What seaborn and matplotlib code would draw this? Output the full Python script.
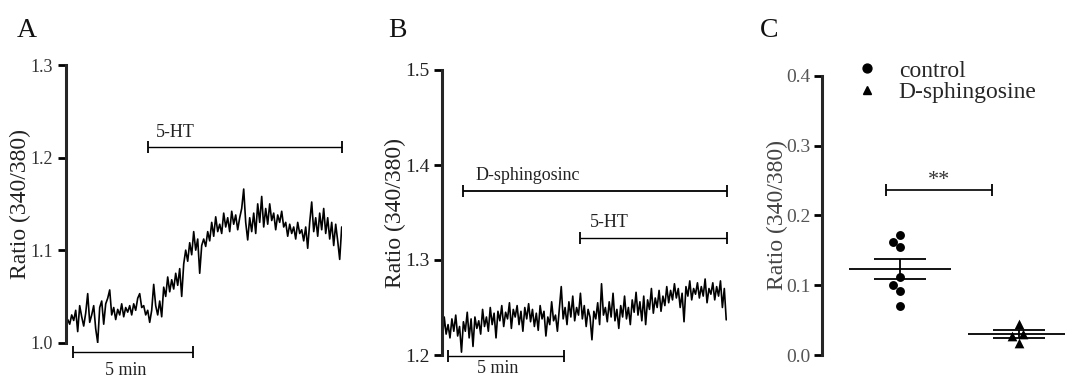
import numpy as np
import pandas as pd
import matplotlib
matplotlib.use("Agg")
import matplotlib.pyplot as plt
from matplotlib.lines import Line2D
import seaborn as sns

# ---------------- data ----------------
# Panel A: ratio trace, one sample every 5 s
a_dt = 5
a_ratio = [
    1.022, 1.025, 1.020, 1.030, 1.024, 1.035, 1.012, 1.040, 1.028, 1.018,
    1.032, 1.053, 1.022, 1.030, 1.040, 1.015, 1.000, 1.038, 1.045, 1.020,
    1.042, 1.048, 1.057, 1.030, 1.038, 1.025, 1.036, 1.030, 1.042, 1.028,
    1.038, 1.033, 1.040, 1.030, 1.042, 1.035, 1.048, 1.053, 1.038, 1.040,
    1.030, 1.035, 1.022, 1.035, 1.063, 1.040, 1.030, 1.045, 1.028, 1.060,
    1.050, 1.071, 1.055, 1.068, 1.058, 1.075, 1.062, 1.080, 1.050, 1.085,
    1.100, 1.088, 1.108, 1.095, 1.120, 1.100, 1.112, 1.075, 1.105, 1.112,
    1.104, 1.120, 1.110, 1.130, 1.115, 1.136, 1.120, 1.128, 1.118, 1.140,
    1.125, 1.135, 1.120, 1.142, 1.128, 1.138, 1.122, 1.135, 1.145, 1.166,
    1.130, 1.111, 1.135, 1.120, 1.140, 1.118, 1.150, 1.130, 1.158, 1.125,
    1.145, 1.128, 1.150, 1.132, 1.140, 1.122, 1.138, 1.130, 1.142, 1.125,
    1.130, 1.115, 1.128, 1.118, 1.125, 1.112, 1.130, 1.118, 1.122, 1.110,
    1.125, 1.102, 1.130, 1.152, 1.120, 1.135, 1.115, 1.140, 1.122, 1.145,
    1.118, 1.135, 1.112, 1.130, 1.105, 1.128, 1.110, 1.090, 1.125,
]
a_ht_start, a_ht_end = 205, 690          # 5-HT application (s)
a_scale_start, a_scale_end = 19, 319     # 5 min scale bar (s)

# Panel B: ratio trace, one sample every 5 s
b_dt = 5
b_ratio = [
    1.215, 1.240, 1.222, 1.232, 1.218, 1.238, 1.225, 1.242, 1.220, 1.230,
    1.203, 1.235, 1.225, 1.245, 1.218, 1.238, 1.209, 1.240, 1.228, 1.236,
    1.222, 1.248, 1.230, 1.240, 1.225, 1.250, 1.232, 1.244, 1.218, 1.246,
    1.236, 1.252, 1.230, 1.245, 1.238, 1.255, 1.228, 1.248, 1.240, 1.252,
    1.232, 1.246, 1.225, 1.250, 1.238, 1.254, 1.235, 1.248, 1.230, 1.244,
    1.226, 1.252, 1.238, 1.246, 1.220, 1.240, 1.232, 1.256, 1.236, 1.242,
    1.225, 1.248, 1.272, 1.238, 1.250, 1.232, 1.256, 1.240, 1.262, 1.236,
    1.250, 1.242, 1.265, 1.238, 1.252, 1.230, 1.248, 1.240, 1.216, 1.246,
    1.238, 1.255, 1.232, 1.275, 1.242, 1.250, 1.235, 1.256, 1.240, 1.265,
    1.236, 1.248, 1.228, 1.252, 1.240, 1.262, 1.238, 1.250, 1.232, 1.258,
    1.245, 1.266, 1.242, 1.256, 1.236, 1.262, 1.232, 1.258, 1.248, 1.270,
    1.244, 1.260, 1.250, 1.268, 1.246, 1.262, 1.252, 1.272, 1.255, 1.268,
    1.258, 1.275, 1.260, 1.270, 1.250, 1.265, 1.235, 1.272, 1.262, 1.278,
    1.258, 1.270, 1.264, 1.276, 1.260, 1.272, 1.262, 1.280, 1.255, 1.270,
    1.264, 1.276, 1.258, 1.272, 1.262, 1.278, 1.250, 1.270, 1.237,
]
b_sph_start, b_sph_end = 55, 742
b_ht_start, b_ht_end = 360, 742
b_scale_start, b_scale_end = 16, 316

# Panel C: peak ratio increase per cell
groups = ["control", "D-sphingosine"]
control_vals = [0.162, 0.154, 0.172, 0.112, 0.100, 0.092, 0.070]
sph_vals = [0.045, 0.030, 0.027, 0.017]

# ---------------- style ----------------
sns.set_style("ticks")
plt.rcParams["font.family"] = ["Liberation Serif", "DejaVu Serif"]
plt.rcParams["axes.linewidth"] = 2.2

W, H = 1065, 377
fig = plt.figure(figsize=(W / 100, H / 100), dpi=100)


def fax(left, top, right, bottom):
    return fig.add_axes([left / W, 1 - bottom / H, (right - left) / W, (bottom - top) / H])


def style_axis(ax, ticks, labels, tick_color, label_color, label_x, tsize, pad):
    sns.despine(ax=ax, bottom=True)
    ax.set_xticks([])
    ax.set_yticks(ticks)
    ax.set_yticklabels(labels)
    ax.tick_params(axis="y", direction="out", length=6, width=2.0, pad=pad,
                   labelsize=tsize, labelcolor=tick_color, color="black")
    ax.set_ylabel("Ratio (340/380)", fontsize=17, color=label_color)
    ax.yaxis.set_label_coords(label_x, 0.5)
    ax.patch.set_alpha(0)


def bar(ax, x0, x1, y, lw=1.0):
    ax.plot([x0, x1], [y, y], color="black", lw=lw, marker="|", markersize=8,
            markeredgewidth=1.3, clip_on=False, solid_capstyle="butt")


# ---------------- panel A ----------------
axA = fax(65.7, 65, 341.7, 342.7)
a_df = pd.DataFrame({"t": np.arange(len(a_ratio)) * a_dt, "ratio": a_ratio})
sns.lineplot(data=a_df, x="t", y="ratio", ax=axA, color="black", lw=1.2, estimator=None)
axA.set_xlim(0, 690)
axA.set_ylim(1.0, 1.3)
style_axis(axA, [1.0, 1.1, 1.2, 1.3], ["1.0", "1.1", "1.2", "1.3"], "#333333", "#222222",
           -0.125, 13, 3)
axA.set_xlabel("")
bar(axA, a_ht_start, a_ht_end, 1.2112)
axA.text(a_ht_start + 21, 1.218, "5-HT", fontsize=13, ha="left", va="bottom", color="#222222")
bar(axA, a_scale_start, a_scale_end, 0.990)
axA.text((a_scale_start + a_scale_end) / 2 - 20, 0.9795, "5 min", fontsize=13, ha="center",
         va="top", color="#222222", clip_on=False)

# ---------------- panel B ----------------
axB = fax(442.3, 70, 727, 355)
b_df = pd.DataFrame({"t": np.arange(len(b_ratio)) * b_dt, "ratio": b_ratio})
sns.lineplot(data=b_df, x="t", y="ratio", ax=axB, color="black", lw=1.2, estimator=None)
axB.set_xlim(0, 742)
axB.set_ylim(1.2, 1.5)
style_axis(axB, [1.2, 1.3, 1.4, 1.5], ["1.2", "1.3", "1.4", "1.5"], "#222222", "#222222",
           -0.1275, 14, 3)
axB.set_xlabel("")
bar(axB, b_sph_start, b_sph_end, 1.3726, lw=1.3)
axB.text(b_sph_start + 32, 1.380, "D-sphingosinc", fontsize=13, ha="left", va="bottom",
         color="#222222")
bar(axB, b_ht_start, b_ht_end, 1.3235)
axB.text(b_ht_start + 24, 1.331, "5-HT", fontsize=13, ha="left", va="bottom", color="#222222")
bar(axB, b_scale_start, b_scale_end, 1.199)
axB.text((b_scale_start + b_scale_end) / 2 - 22, 1.1945, "5 min", fontsize=13, ha="center",
         va="top", color="#222222", clip_on=False)

# ---------------- panel C ----------------
axC = fax(822, 75.7, 822 + 2.26 * 118.6, 355)
sns.swarmplot(x=["control"] * len(control_vals), y=control_vals, order=groups, ax=axC,
              color="black", marker="o", size=6.4, linewidth=0)
sns.swarmplot(x=["D-sphingosine"] * len(sph_vals), y=sph_vals, order=groups, ax=axC,
              color="black", marker="^", size=7.0, linewidth=0)
for i, vals in enumerate([control_vals, sph_vals]):
    v = np.asarray(vals)
    m = v.mean()
    s = v.std(ddof=1) / np.sqrt(len(v))
    axC.hlines(m, i - 0.43, i + 0.43, color="black", lw=1.3, clip_on=False)
    axC.hlines([m - s, m + s], i - 0.22, i + 0.22, color="black", lw=1.3)
    axC.vlines(i, m - s, m + s, color="black", lw=1.3)
axC.set_xlim(-0.66, 1.6)
axC.set_ylim(0, 0.4)
style_axis(axC, [0.0, 0.1, 0.2, 0.3, 0.4], ["0.0", "0.1", "0.2", "0.3", "0.4"], "#555555",
           "#444444", -0.125, 14, 2)
axC.set_xlabel("")
bar(axC, -0.118, 0.77, 0.237, lw=1.2)
axC.text(0.33, 0.243, "**", fontsize=16, ha="center", va="baseline", color="#333333")

handles = [Line2D([], [], marker="o", color="black", linestyle="", markersize=6.4),
           Line2D([], [], marker="^", color="black", linestyle="", markersize=6.4)]
fig.legend(handles, groups, loc="upper left", bbox_to_anchor=(855 / W, 1 - 60 / H),
           bbox_transform=fig.transFigure, frameon=False, fontsize=17, labelspacing=0.0,
           handlelength=1.0, handletextpad=0.85, borderpad=0, borderaxespad=0)

# ---------------- panel letters ----------------
for x, letter in [(17, "A"), (388, "B"), (760, "C")]:
    fig.text(x / W, 1 - 37 / H, letter, fontsize=20, ha="left", va="baseline", color="#111111")

fig.savefig("out.png", dpi=100)
